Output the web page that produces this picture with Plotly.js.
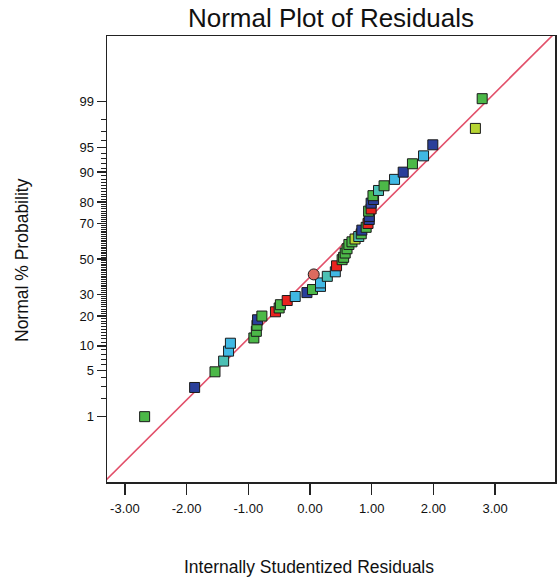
<!DOCTYPE html>
<html>
<head>
<meta charset="utf-8">
<script src="https://cdn.plot.ly/plotly-3.0.1.min.js"></script>
<style>html,body{margin:0;padding:0;background:#fff;}#chart{width:558px;height:581px;}</style>
</head>
<body>
<div id="chart"></div>
<script>
// Internally studentized residuals (x) and their normal % probability (y)
var residuals = [-2.68, -1.87, -1.54, -1.40, -1.32, -1.29, -0.91, -0.87, -0.86, -0.85,
  -0.78, -0.56, -0.50, -0.48, -0.37, -0.24, -0.05, 0.04, 0.17, 0.17,
  0.28, 0.06, 0.41, 0.43, 0.52, 0.545, 0.57, 0.60, 0.63, 0.68,
  0.73, 0.79, 0.83, 0.84, 0.91, 0.94, 0.96, 0.96, 0.95, 0.99,
  0.99, 1.03, 1.02, 1.11, 1.20, 1.37, 1.51, 1.66, 1.84, 1.99,
  2.68, 2.79];
var probabilities = [1.0, 2.9, 4.8, 6.6, 8.7, 10.7, 12.2, 14.3, 16.4, 18.5,
  20.0, 21.8, 23.5, 25.0, 27.0, 29.0, 31.0, 32.6, 34.3, 36.2,
  39.9, 41.0, 42.5, 46.0, 49.6, 51.0, 53.5, 56.0, 58.5, 60.0,
  61.6, 63.0, 64.5, 66.5, 68.0, 70.0, 72.0, 73.5, 76.0, 77.0,
  79.5, 81.0, 82.5, 84.4, 86.0, 88.0, 90.0, 92.0, 93.6, 95.4,
  97.3, 99.1];
var groups = ['G','B','G','T','C','C','G','G','G','B',
  'G','R','G','G','R','C','B','G','C','C',
  'T','O','C','R','G','G','G','G','G','G',
  'Y','T','G','B','G','R','B','B','G','R',
  'B','B','G','T','G','C','B','G','C','B',
  'Y','G'];
var probTicks = [1, 5, 10, 20, 30, 50, 70, 80, 90, 95, 99];
var xTicks = [-3, -2, -1, 0, 1, 2, 3];
var xTickText = ['-3.00', '-2.00', '-1.00', '0.00', '1.00', '2.00', '3.00'];
var probRange = [0.05, 99.95];
var xRange = [-3.29, 3.97];
// reference line: z = intercept + slope * residual
var lineIntercept = -0.265;
var lineSlope = 0.907;

var colorMap = {G:'#4cb848', B:'#2a3f9a', C:'#40b8e4', T:'#4cc0b4', R:'#e8231e', Y:'#b6d432', O:'#dc6a5e'};

function normInv(p){
  var a=[-3.969683028665376e+01,2.209460984245205e+02,-2.759285104469687e+02,1.383577518672690e+02,-3.066479806614716e+01,2.506628277459239e+00];
  var b=[-5.447609879822406e+01,1.615858368580409e+02,-1.556989798598866e+02,6.680131188771972e+01,-1.328068155288572e+01];
  var c=[-7.784894002430293e-03,-3.223964580411365e-01,-2.400758277161838e+00,-2.549732539343734e+00,4.374664141464968e+00,2.938163982698783e+00];
  var d=[7.784695709041462e-03,3.224671290700398e-01,2.445134137142996e+00,3.754408661907416e+00];
  var pl=0.02425,q,r;
  if(p<pl){q=Math.sqrt(-2*Math.log(p));return (((((c[0]*q+c[1])*q+c[2])*q+c[3])*q+c[4])*q+c[5])/((((d[0]*q+d[1])*q+d[2])*q+d[3])*q+1);}
  if(p<=1-pl){q=p-0.5;r=q*q;return (((((a[0]*r+a[1])*r+a[2])*r+a[3])*r+a[4])*r+a[5])*q/(((((b[0]*r+b[1])*r+b[2])*r+b[3])*r+b[4])*r+1);}
  q=Math.sqrt(-2*Math.log(1-p));return -(((((c[0]*q+c[1])*q+c[2])*q+c[3])*q+c[4])*q+c[5])/((((d[0]*q+d[1])*q+d[2])*q+d[3])*q+1);
}
function z(pct){ return normInv(pct/100); }

var minorVals = [];
for (var k = 1; k <= 99; k++) { if (probTicks.indexOf(k) < 0) minorVals.push(z(k)); }

var lineX = [xRange[0] - 0.1, xRange[1] + 0.1];
var lineTrace = {
  x: lineX, y: lineX.map(function(v){ return lineIntercept + lineSlope * v; }),
  mode: 'lines', line: {color: '#e2506a', width: 1.6}, hoverinfo: 'skip', showlegend: false
};
var pts = {
  x: residuals, y: probabilities.map(z), mode: 'markers', showlegend: false,
  marker: {
    size: groups.map(function(g){ return g === 'O' ? 11 : 10; }),
    symbol: groups.map(function(g){ return g === 'O' ? 'circle' : 'square'; }),
    color: groups.map(function(g){ return colorMap[g]; }),
    opacity: 1,
    line: {color: '#1a1a1a', width: 1}
  }
};

var font = 'Liberation Sans, Arial, sans-serif';
var layout = {
  width: 558, height: 581,
  margin: {l: 107, r: 3, t: 36, b: 99},
  paper_bgcolor: '#fff', plot_bgcolor: '#fff',
  font: {family: font, color: '#111'},
  title: {text: 'Normal Plot of Residuals', font: {size: 26, family: font, color: '#111'},
          x: 0.5, xref: 'paper', y: 1 - 18/581, yref: 'container', yanchor: 'middle'},
  xaxis: {
    range: xRange, tickmode: 'array', tickvals: xTicks, ticktext: xTickText,
    ticks: 'outside', ticklen: 11, tickwidth: 1.5, tickcolor: '#222',
    ticklabelstandoff: 3,
    tickfont: {size: 13, family: font, color: '#111'},
    showline: true, mirror: true, linecolor: '#222', linewidth: 1.5,
    showgrid: false, zeroline: false, automargin: false
  },
  yaxis: {
    range: [z(probRange[0]), z(probRange[1])], tickmode: 'array',
    tickvals: probTicks.map(z), ticktext: probTicks.map(String),
    ticks: 'outside', ticklen: 9, tickwidth: 1.5, tickcolor: '#222',
    tickfont: {size: 13, family: font, color: '#111'},
    minor: {tickmode: 'array', tickvals: minorVals, ticks: 'outside', ticklen: 5, tickwidth: 1, tickcolor: '#222', showgrid: false},
    showline: true, mirror: true, linecolor: '#222', linewidth: 1.5,
    showgrid: false, zeroline: false, automargin: false
  },
  annotations: [
    {text: 'Internally Studentized Residuals', xref: 'paper', yref: 'paper',
     x: (309 - 107) / 448, y: (482 - 567) / 446, xanchor: 'center', yanchor: 'middle',
     showarrow: false, font: {size: 17.5, family: font, color: '#111'}},
    {text: 'Normal % Probability', xref: 'paper', yref: 'paper', textangle: -90,
     x: (22 - 107) / 448, y: (482 - 260) / 446, xanchor: 'center', yanchor: 'middle',
     showarrow: false, font: {size: 17.5, family: font, color: '#111'}}
  ]
};
Plotly.newPlot('chart', [lineTrace, pts], layout, {displayModeBar: false, staticPlot: true});
</script>
</body>
</html>
